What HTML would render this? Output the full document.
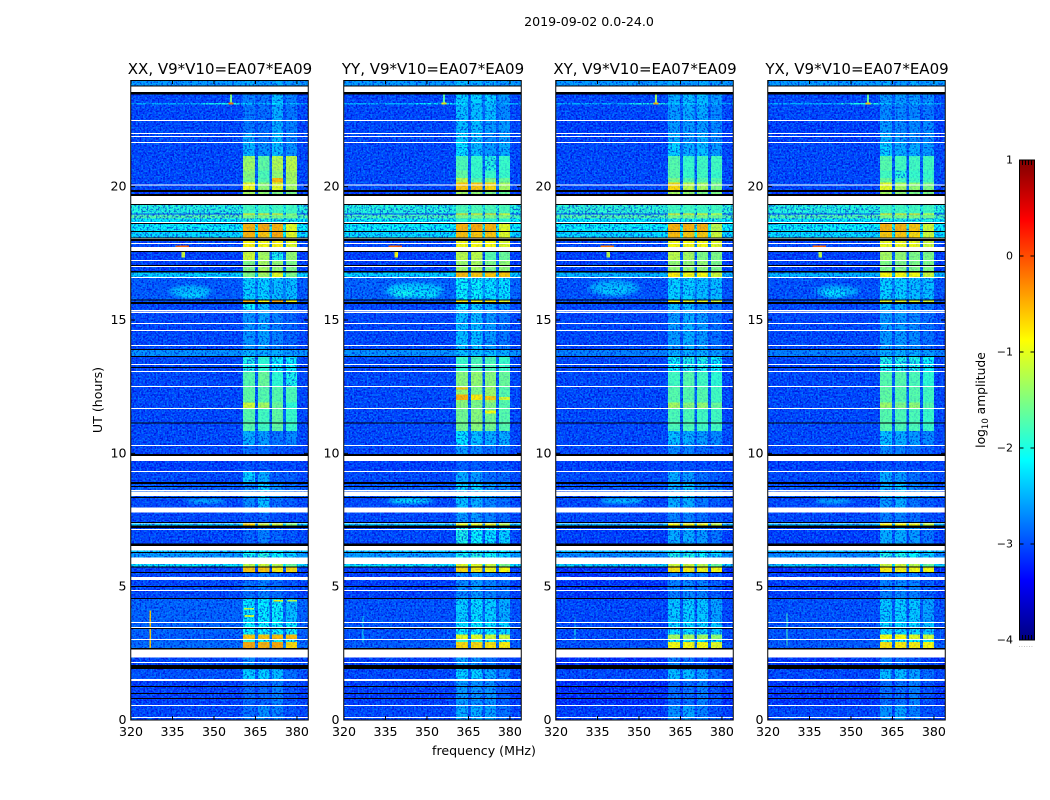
<!DOCTYPE html>
<html lang="en">
<head>
<meta charset="utf-8">
<title>2019-09-02 spectrogram</title>
<style>
html,body{margin:0;padding:0;background:#fff;}
svg{display:block;font-family:"DejaVu Sans","Liberation Sans",sans-serif;fill:#000;}
</style>
</head>
<body>
<svg id="figure" xmlns="http://www.w3.org/2000/svg" width="1050" height="800" viewBox="0 0 1050 800">
<defs>
<filter id="speckle-dark" x="0" y="0" width="100%" height="100%" color-interpolation-filters="sRGB"><feTurbulence type="fractalNoise" baseFrequency="0.55" numOctaves="1" seed="3"/><feColorMatrix values="0 0 0 0 0  0 0 0 0 0  0 0 0 0 0.8  8 0 0 0 -4"/></filter>
<filter id="speckle-light" x="0" y="0" width="100%" height="100%" color-interpolation-filters="sRGB"><feTurbulence type="fractalNoise" baseFrequency="0.55" numOctaves="1" seed="11"/><feColorMatrix values="0 0 0 0 0  0 0 0 0 0.66  0 0 0 0 1  8 0 0 0 -4"/></filter>
<filter id="soft-blur" x="-30%" y="-60%" width="160%" height="220%"><feGaussianBlur stdDeviation="2.5 1.5"/></filter>
<linearGradient id="jet-gradient" x1="0" y1="1" x2="0" y2="0"></linearGradient>
</defs>
<text x="589" y="26" font-size="12.6" text-anchor="middle">2019-09-02 0.0-24.0</text>
<text x="102" y="400" font-size="12.6" text-anchor="middle" transform="rotate(-90 102 400)">UT (hours)</text>
<text x="484" y="755" font-size="12.6" text-anchor="middle">frequency (MHz)</text>
<text x="985" y="400" font-size="12.3" text-anchor="middle" transform="rotate(-90 985 400)">log<tspan font-size="8.5" dy="3">10</tspan><tspan dy="-3"> amplitude</tspan></text>
<g id="panels"></g>
<g id="colorbar"></g>
<text x="1026" y="647" font-size="6" fill="#888" text-anchor="middle" letter-spacing="0.6">......</text>
</svg>
<script>
const panelTitles = ['XX, V9*V10=EA07*EA09', 'YY, V9*V10=EA07*EA09', 'XY, V9*V10=EA07*EA09', 'YX, V9*V10=EA07*EA09'];
const freqTicks = [320, 335, 350, 365, 380];
const hourTicks = [0, 5, 10, 15, 20];
const colorbarTicks = [1, 0, -1, -2, -3, -4];
const freqEdges = [320, 360.5, 364.9, 366, 370, 371, 375, 376, 380, 384];
const columnRole = [0, 1, 5, 2, 5, 3, 5, 4, 0];
const rowBottoms = [23.45,23.14,23.08,22.5,22.01,21.64,21.15,20.6,20.33,20.15,19.88,19.65,19,18.96,18.8,18.64,18.3,18.1,17.55,17.25,16.78,16.6,15.77,15.68,15.4,13.88,13.61,13.09,12.5,11.9,11.66,10.84,10.3,9.71,9.3,8.85,8.33,7.76,7.39,7.29,6.35,6.26,5.85,5.74,5.55,4.54,3.68,3.2,3.04,2.93,2.34,1.9,1.46,0.53,0];
// each row: background, band 1-4, band gap (log10 amplitude)
const amplitudeXX = [
[-2.6,-2.5,-2.6,-2.5,-2.6,-2.7],[-3.05,-2.75,-2.8,-2.4,-2.75,-3],[-2.5,-2.3,-2.4,-2.2,-2.4,-2.6],[-3.05,-2.8,-2.85,-2.5,-2.8,-3],[-3.05,-2.8,-2.85,-2.5,-2.75,-3],[-3.05,-2.55,-2.8,-2.4,-2.75,-3],[-3.05,-2.45,-2.65,-2.4,-2.65,-2.95],[-3.05,-1.35,-1.65,-1.25,-1.2,-2.9],[-3.05,-1.45,-1.75,-1.4,-1.3,-2.9],[-3.05,-1.5,-1.7,-0.55,-1.3,-2.85],[-3.05,-0.95,-1.4,-1,-1.3,-2.8],[-3.1,-1.3,-1.4,-1.5,-1.5,-2.9],
[-1.95,-1.8,-1.8,-1.8,-1.8,-1.95],[-3,-0.7,-0.7,-0.7,-1.4,-3],[-1.7,-1.5,-1.5,-1.5,-1.55,-1.7],[-2.15,-2,-2,-2,-2,-2.15],[-2.1,-0.5,-0.45,-0.5,-1,-2],[-2.25,-0.5,-0.6,-0.45,-1,-2.1],[-3.05,-0.85,-0.9,-0.85,-1,-2.8],[-3.1,-1.1,-1.3,-2,-1.4,-2.9],[-3.1,-1.5,-1.3,-1.4,-1.5,-2.9],[-2.3,-1.5,-1.3,-1,-1.5,-2.3],[-2.95,-2.3,-2.3,-2.4,-2.4,-2.7],[-3,-0.5,-0.9,-0.45,-0.9,-3],
[-3.05,-2.1,-2.4,-2.8,-2.8,-3],[-3.05,-2.65,-2.55,-2.75,-2.9,-3],[-2.65,-2.45,-2.5,-2.5,-2.6,-2.7],[-3.05,-2,-1.9,-2.1,-2.1,-2.9],[-3.05,-1.7,-1.6,-1.9,-2,-2.9],[-3.05,-1.65,-1.7,-1.7,-1.75,-2.9],[-3.05,-1.1,-1.3,-1.6,-1.9,-2.85],[-3.05,-1.7,-1.8,-1.65,-1.85,-2.9],[-3.05,-2.5,-2.6,-2.8,-2.7,-3],[-3.05,-2.85,-2.85,-3,-3,-3],[-3.1,-3,-3,-3.05,-3.05,-3.1],[-3.05,-2.3,-2.5,-2.95,-2.95,-3],[-2.95,-2.7,-2.3,-2.7,-2.85,-2.9],[-3.05,-2.7,-2.4,-2.85,-2.95,-3],[-3.05,-3,-2.9,-3,-3.05,-3.05],[-2.35,-0.7,-1.1,-1.1,-1.5,-2.3],[-3.05,-2.9,-2.75,-2.9,-3,-3.05],[-2.3,-2.2,-2.2,-2.2,-2.2,-2.3],[-2.6,-2.05,-1.95,-2.1,-2.3,-2.5],[-2.2,-1.2,-1.1,-1.2,-1.6,-2.1],[-3.1,-0.6,-0.6,-0.8,-0.7,-3],[-3.05,-2.85,-2.75,-2.85,-3,-3],[-2.9,-2.2,-2.15,-2.1,-2.4,-2.85],[-2.9,-2.1,-2.1,-2.1,-2.1,-2.8],[-2.95,-0.6,-0.6,-0.55,-0.55,-2.8],[-2.9,-1.9,-2,-2,-2,-2.75],[-2.85,-0.45,-0.5,-0.45,-0.7,-2.7],[-3.05,-2.7,-2.9,-2.9,-3.05,-3.05],[-3,-2.3,-2.3,-2.4,-2.85,-2.95],[-3.1,-2.9,-2.9,-2.75,-3,-3.05],[-3.05,-2.85,-2.65,-2.75,-3,-3]];
const amplitudeYY = [
[-2.6,-2.4,-2.5,-2.5,-2.6,-2.7],[-3.05,-2.3,-2.3,-2.3,-2.6,-2.85],[-2.5,-2.2,-2.3,-2.3,-2.5,-2.7],[-3.05,-2.4,-2.4,-2.4,-2.7,-2.9],[-3.05,-2.4,-2.4,-2.6,-2.6,-2.95],[-3.05,-2.3,-2.4,-2.7,-2.6,-2.95],[-3.05,-2.2,-2.4,-2.6,-2.5,-2.9],[-3.05,-1.75,-1.85,-1.95,-1.85,-2.9],[-3.05,-1.65,-1.85,-1.85,-1.85,-2.9],[-3.05,-1.2,-1.7,-1.5,-1.6,-2.85],[-3.05,-0.6,-0.6,-0.7,-1.3,-2.8],[-3.1,-1.3,-1.4,-1.5,-1.6,-2.9],
[-1.95,-1.75,-1.75,-1.75,-1.75,-1.95],[-3,-0.6,-0.7,-0.6,-0.8,-3],[-1.75,-1.5,-1.5,-1.5,-1.5,-1.75],[-2.1,-1.9,-1.9,-1.9,-1.9,-2.1],[-2.1,-0.5,-0.45,-0.5,-1,-2],[-2.25,-0.55,-0.6,-0.6,-1,-2.1],[-3.05,-0.9,-0.9,-0.9,-1,-2.8],[-3.1,-1.2,-1.2,-1.7,-1.6,-2.9],[-3.1,-1.35,-1.3,-1.5,-1.4,-2.9],[-2.3,-0.55,-0.6,-0.6,-0.6,-2.3],[-2.9,-2.1,-2.1,-2.2,-2.2,-2.6],[-3,-0.8,-0.9,-0.8,-1,-3],
[-3.05,-2.2,-2.3,-2.5,-2.6,-3],[-3.05,-2.4,-2.4,-2.6,-2.8,-3],[-2.65,-2.4,-2.4,-2.4,-2.5,-2.7],[-3.05,-1.85,-1.75,-1.75,-1.85,-2.9],[-3.05,-1.45,-1.4,-1.45,-1.6,-2.9],[-3.05,-1.4,-1.5,-1.35,-1.7,-2.85],[-3.05,-1.45,-1.5,-1.5,-1.7,-2.85],[-3.05,-1.55,-1.45,-1.55,-1.7,-2.85],[-3.05,-2.2,-2.4,-2.5,-2.5,-3],[-3.05,-2.6,-2.7,-2.8,-2.85,-3],[-3.1,-2.95,-2.95,-3,-3,-3.1],[-3.05,-2.5,-2.6,-2.85,-2.85,-3],[-2.95,-2.3,-2.3,-2.6,-2.7,-2.9],[-3.05,-2.4,-2.5,-2.7,-2.85,-3],[-3.05,-2.6,-2.6,-2.75,-2.85,-3],[-2.35,-1,-1,-1,-1.2,-2.3],[-3.05,-2,-2.1,-2.2,-2.3,-3],[-2.3,-2.1,-2.1,-2.1,-2.1,-2.3],[-2.6,-2.05,-1.95,-2.05,-2.3,-2.5],[-2.2,-1,-1,-1.1,-1.5,-2.1],[-3.1,-0.7,-0.8,-0.9,-0.9,-3],[-3.1,-2.7,-2.6,-2.75,-2.85,-3],[-3,-2.3,-2.2,-2.3,-2.5,-2.9],[-3,-2.15,-2.15,-2.15,-2.25,-2.85],[-3,-1,-1,-1.1,-1.1,-2.85],[-3,-1.8,-1.9,-2,-2,-2.8],[-2.95,-0.7,-0.7,-0.75,-0.8,-2.8],[-3.1,-2.55,-2.65,-2.85,-3,-3.05],[-3.05,-2.3,-2.3,-2.5,-2.75,-2.95],[-3.1,-2.6,-2.65,-2.65,-2.95,-3],[-3.05,-2.5,-2.5,-2.55,-2.85,-3]];
const amplitudeXY = [
[-2.6,-2.5,-2.6,-2.5,-2.6,-2.7],[-3.05,-2.5,-2.4,-2.4,-2.6,-2.9],[-2.5,-2.3,-2.3,-2.3,-2.4,-2.6],[-3.05,-2.6,-2.5,-2.5,-2.7,-2.95],[-3.1,-2.6,-2.6,-2.6,-2.7,-3],[-3.1,-2.5,-2.6,-2.5,-2.7,-2.95],[-3.05,-2.3,-2.5,-2.4,-2.6,-2.9],[-3.05,-1.7,-1.85,-1.8,-1.8,-2.9],[-3.05,-1.7,-1.85,-1.8,-1.85,-2.9],[-3.05,-1.5,-1.7,-1.7,-1.7,-2.9],[-3.05,-0.7,-1.2,-1.3,-1.5,-2.8],[-3.1,-1.3,-1.4,-1.5,-1.5,-2.9],
[-1.9,-1.8,-1.8,-1.8,-1.8,-1.9],[-3,-0.7,-0.7,-0.8,-1,-3],[-1.7,-1.5,-1.5,-1.5,-1.55,-1.7],[-2.15,-2,-2,-2,-2,-2.15],[-2.1,-0.5,-0.5,-0.5,-1.2,-2],[-2.25,-0.55,-0.6,-0.6,-1.1,-2.1],[-3.05,-0.9,-0.9,-0.9,-1,-2.8],[-3.1,-1.2,-1.3,-1.5,-1.5,-2.9],[-3.1,-1.4,-1.4,-1.4,-1.5,-2.9],[-2.45,-0.8,-0.9,-0.9,-1.1,-2.4],[-3,-2.3,-2.3,-2.4,-2.4,-2.7],[-3,-0.9,-1,-1,-1.1,-3],
[-3.05,-2.4,-2.4,-2.7,-2.8,-3],[-3.05,-2.6,-2.5,-2.6,-2.85,-3],[-2.75,-2.5,-2.5,-2.5,-2.6,-2.8],[-3.05,-2.1,-2,-2,-2.1,-2.9],[-3.05,-1.8,-1.7,-1.8,-1.9,-2.9],[-3.05,-1.7,-1.7,-1.7,-1.8,-2.9],[-3.05,-1.3,-1.45,-1.4,-1.6,-2.85],[-3.05,-1.75,-1.75,-1.8,-1.8,-2.9],[-3.05,-2.4,-2.5,-2.6,-2.7,-3],[-3.05,-2.7,-2.75,-2.85,-2.95,-3],[-3.1,-3,-3,-3.05,-3.05,-3.1],[-3.05,-2.5,-2.6,-2.85,-2.95,-3],[-3,-2.5,-2.4,-2.7,-2.8,-2.95],[-3.05,-2.5,-2.5,-2.8,-2.95,-3],[-3.05,-2.75,-2.75,-2.85,-3,-3.05],[-2.45,-0.9,-0.9,-0.95,-1.2,-2.4],[-3.1,-2.5,-2.5,-2.6,-2.8,-3],[-2.4,-2.2,-2.2,-2.2,-2.2,-2.4],[-2.7,-2,-2,-2.1,-2.3,-2.6],[-2.3,-1.1,-1.1,-1.2,-1.6,-2.2],[-3.2,-0.75,-0.8,-0.9,-0.9,-3],[-3.15,-2.75,-2.7,-2.75,-2.95,-3.1],[-3.05,-2.35,-2.3,-2.35,-2.55,-2.95],[-3.05,-2.25,-2.25,-2.25,-2.35,-2.9],[-3.05,-1.3,-1.3,-1.3,-1.4,-2.9],[-3.05,-2,-2,-2.1,-2.1,-2.85],[-3,-0.9,-0.9,-0.9,-1,-2.85],[-3.2,-2.75,-2.85,-2.95,-3.1,-3.15],[-3.05,-2.4,-2.4,-2.55,-2.85,-3],[-3.2,-2.85,-2.85,-2.75,-3,-3.15],[-3.1,-2.65,-2.55,-2.75,-3,-3.05]];
const amplitudeYX = [
[-2.6,-2.5,-2.6,-2.5,-2.6,-2.7],[-3.05,-2.6,-2.6,-2.6,-2.7,-2.95],[-2.5,-2.3,-2.4,-2.4,-2.4,-2.6],[-3.05,-2.7,-2.7,-2.7,-2.8,-3],[-3.1,-2.6,-2.7,-2.7,-2.7,-3],[-3.1,-2.5,-2.6,-2.7,-2.7,-2.95],[-3.05,-2.3,-2.5,-2.5,-2.6,-2.9],[-3.05,-1.7,-1.8,-1.8,-1.8,-2.9],[-3.05,-1.8,-1.95,-1.85,-1.85,-2.9],[-3.05,-1.6,-1.8,-1.8,-1.8,-2.9],[-3.05,-1,-1.3,-1.4,-1.5,-2.85],[-3.1,-1.3,-1.4,-1.5,-1.5,-2.9],
[-1.95,-1.8,-1.8,-1.8,-1.8,-1.95],[-3,-0.7,-0.7,-0.7,-1,-3],[-1.7,-1.5,-1.5,-1.5,-1.55,-1.7],[-2.15,-2,-2,-2,-2,-2.15],[-2.1,-0.5,-0.5,-0.6,-1.1,-2],[-2.25,-0.6,-0.6,-0.7,-1.1,-2.1],[-3.05,-0.95,-0.95,-0.95,-1.1,-2.8],[-3.1,-1.3,-1.4,-1.5,-1.5,-2.9],[-3.1,-1.5,-1.5,-1.5,-1.5,-2.9],[-2.45,-0.85,-0.9,-0.9,-1.1,-2.4],[-3,-2.3,-2.3,-2.4,-2.4,-2.7],[-3,-1,-1,-1,-1.1,-3],
[-3.05,-2.4,-2.5,-2.7,-2.8,-3],[-3.05,-2.6,-2.6,-2.7,-2.85,-3],[-2.75,-2.5,-2.5,-2.5,-2.6,-2.8],[-3.05,-2,-2,-2,-2.1,-2.9],[-3.05,-1.7,-1.7,-1.75,-1.9,-2.9],[-3.05,-1.65,-1.7,-1.7,-1.8,-2.9],[-3.05,-1.35,-1.5,-1.4,-1.7,-2.85],[-3.05,-1.7,-1.75,-1.75,-1.85,-2.9],[-3.05,-2.4,-2.5,-2.6,-2.7,-3],[-3.05,-2.7,-2.75,-2.85,-2.95,-3],[-3.1,-3,-3,-3.05,-3.05,-3.1],[-3.05,-2.5,-2.6,-2.85,-2.95,-3],[-3,-2.5,-2.4,-2.7,-2.8,-2.95],[-3.05,-2.6,-2.5,-2.8,-2.95,-3],[-3.05,-2.75,-2.75,-2.85,-3,-3.05],[-2.45,-0.85,-0.9,-0.9,-1.2,-2.4],[-3.1,-2.5,-2.5,-2.6,-2.8,-3],[-2.4,-2.2,-2.2,-2.2,-2.2,-2.4],[-2.7,-2,-2,-2.1,-2.3,-2.6],[-2.3,-1.1,-1.1,-1.2,-1.6,-2.2],[-3.2,-0.8,-0.85,-0.9,-0.9,-3],[-3.1,-2.75,-2.7,-2.75,-2.95,-3.05],[-3,-2.35,-2.3,-2.35,-2.55,-2.95],[-3,-2.25,-2.25,-2.25,-2.35,-2.9],[-3,-0.9,-0.9,-1,-1.1,-2.9],[-3,-2,-2,-2.1,-2.1,-2.85],[-2.95,-0.75,-0.8,-0.8,-0.9,-2.85],[-3.15,-2.75,-2.85,-2.95,-3.1,-3.15],[-3.05,-2.4,-2.4,-2.55,-2.85,-3],[-3.15,-2.85,-2.85,-2.75,-3,-3.15],[-3.05,-2.65,-2.55,-2.75,-3,-3.05]];
// localized features: freq start, freq end, hour top, hour bottom, value
const featuresXX = [[346,360,23.13,23.08,-2],[355.8,356.6,23.5,23.1,-1.5],[355.3,357,23.15,23.08,-0.2],[336,341,17.8,17.7,-0.1],[338.2,339.6,17.55,17.35,-1.1],[326.6,327.2,4.1,2.7,-0.6],[360.8,364.5,4.2,4.14,-1.1],[371.5,375,4.5,4.44,-0.9],[376.5,380,4.5,4.44,-1.2],[361,364.5,3.93,3.87,-1.1]];
const featuresYY = [[346,360,23.13,23.08,-2.1],[355.8,356.6,23.5,23.1,-1.7],[355.3,357,23.15,23.08,-0.8],[336,341,17.8,17.7,-0.1],[338.2,339.6,17.55,17.35,-0.9],[326.6,327.1,3.9,2.9,-2],[360.5,364.9,12.2,12,-0.5],[366,370,12.2,12,-0.8],[371,375,12.15,12,-0.65],[376,380,12.12,12,-1.05],[360.5,364.9,12.46,12.4,-0.6],[371,375,11.6,11.5,-0.9]];
const featuresXY = [[346,360,23.13,23.08,-2],[355.8,356.6,23.5,23.1,-1.3],[355.3,357,23.15,23.08,-0.5],[336,341,17.8,17.7,-0.2],[338.2,339.6,17.55,17.35,-1.2],[326.6,327.1,3.9,2.9,-2]];
const featuresYX = [[346,360,23.13,23.08,-2],[355.8,356.6,23.5,23.1,-1.6],[355.3,357,23.15,23.08,-0.6],[336,341,17.8,17.7,-0.1],[338.2,339.6,17.55,17.35,-1.2],[326.6,327.1,4,2.8,-1.8]];
// soft diffuse emission: freq start, freq end, hour top, hour bottom, value
const cloudsXX = [[334,349,16.3,15.85,-2.45],[338,347,16,15.82,-2.25],[340,354,8.3,8.12,-2.45]];
const cloudsYY = [[335,356,16.4,15.85,-2.35],[337,346,16.15,15.85,-2.05],[346,354,16.05,15.82,-2.1],[336,352,8.32,8.12,-2.1]];
const cloudsXY = [[332,350,16.5,15.9,-2.5],[336,346,16.3,15.95,-2.35],[336,352,8.32,8.12,-2.35]];
const cloudsYX = [[337,353,16.3,15.85,-2.5],[340,348,16.15,15.85,-2.2],[337,350,8.3,8.12,-2.45]];
const whiteFlags = [[23.75,23.55],[22.5,22.46],[22.01,21.98],[21.9,21.86],[21.68,21.64],[20.08,20.04],[19.65,19.35],[18.68,18.64],[18.08,18.04],[17.89,17.85],[17.74,17.59],[17.25,17.21],[17.03,16.99],[16.61,16.58],[15.65,15.6],[15.38,15.34],[15.31,15.26],[14.89,14.85],[14.63,14.59],[14.06,14.03],[13.35,13.31],[13.09,13.05],[12.53,12.49],[11.7,11.66],[10.31,10.28],[9.9,9.71],[9.34,9.3],[8.63,8.59],[8.57,8.4],[7.97,7.78],[7.41,7.39],[7.16,7.13],[6.53,6.35],[6.09,5.85],[5.37,5.25],[4.88,4.84],[3.68,3.64],[3.49,3.45],[3.04,3],[2.64,2.34],[2.18,2.14],[1.54,1.46],[0.56,0.53],[0.11,0.08]];
const zeroFlags = [[23.79,23.75],[23.55,23.45],[19.88,19.8],[19.73,19.65],[19.35,19.31],[18.64,18.6],[18.34,18.3],[18.09,18.08],[18.04,17.96],[17.59,17.55],[17.06,17.03],[16.84,16.78],[15.77,15.75],[15.68,15.6],[13.91,13.88],[13.65,13.61],[13.24,13.2],[11.16,11.14],[9.98,9.9],[8.93,8.85],[8.78,8.75],[8.36,8.33],[7.43,7.41],[7.29,7.2],[6.62,6.53],[6.3,6.26],[5.76,5.74],[5.55,5.51],[5.03,4.99],[4.58,4.54],[3.45,3.41],[2.7,2.64],[2.06,1.91],[1.28,1.24],[1.01,0.98],[0.83,0.79]];

const panelAmplitudes = [amplitudeXX, amplitudeYY, amplitudeXY, amplitudeYX];
const panelFeatures = [featuresXX, featuresYY, featuresXY, featuresYX];
const panelClouds = [cloudsXX, cloudsYY, cloudsXY, cloudsYX];
const panelKeys = ['xx', 'yy', 'xy', 'yx'];
const panelLefts = [131, 344, 556, 768];
const PANEL_W = 177, PANEL_TOP = 80, PANEL_BOTTOM = 720;
const SMOOTH_ABOVE = -1.9;
const NS = 'http://www.w3.org/2000/svg';
const clamp01 = v => Math.max(0, Math.min(1, v));
function jet(value) {
  const t = clamp01((value + 4) / 5);
  const r = clamp01(1.5 - Math.abs(4 * t - 3));
  const g = clamp01(1.5 - Math.abs(4 * t - 2));
  const b = clamp01(1.5 - Math.abs(4 * t - 1));
  return `rgb(${Math.round(r * 255)},${Math.round(g * 255)},${Math.round(b * 255)})`;
}
const xScale = (left, f) => left + (f - 320) * (PANEL_W / 64);
const yScale = h => PANEL_BOTTOM - h * ((PANEL_BOTTOM - PANEL_TOP) / 24);
function mk(parent, tag, attrs) {
  const node = document.createElementNS(NS, tag);
  for (const k in attrs) node.setAttribute(k, attrs[k]);
  parent.appendChild(node);
  return node;
}
function drawCells(parent, left, rows, minValue, bandsOnly) {
  let rowTop = 24;
  rows.forEach((row, r) => {
    const bottom = rowBottoms[r];
    columnRole.forEach((role, c) => {
      if (row[role] < minValue) return;
      if (bandsOnly && (role === 0 || role === 5)) return;
      const x0 = xScale(left, freqEdges[c]), x1 = xScale(left, freqEdges[c + 1]);
      const y0 = yScale(rowTop), y1 = yScale(bottom);
      const cell = mk(parent, 'rect', { x: x0, y: y0, width: x1 - x0, height: y1 - y0, fill: jet(row[role]) });
      
      
    });
    rowTop = bottom;
  });
}
function drawFeatures(parent, left, items, minValue) {
  items.forEach(ft => {
    if (ft[4] < minValue) return;
    const x0 = xScale(left, ft[0]), x1 = xScale(left, ft[1]);
    const y0 = yScale(ft[2]), y1 = yScale(ft[3]);
    const patch = mk(parent, 'rect', { x: x0, y: y0, width: x1 - x0, height: y1 - y0, fill: jet(ft[4]) });
    
    
  });
}
const panelsRoot = document.getElementById('panels');
panelTitles.forEach((title, p) => {
  const left = panelLefts[p], key = panelKeys[p];
  const rows = panelAmplitudes[p];
  const g = mk(panelsRoot, 'g', {});
  
  
  const cells = mk(g, 'g', { 'shape-rendering': 'crispEdges' });
  
  
  drawCells(cells, left, rows, -99, false);
  panelClouds[p].forEach(cl => {
    const x0 = xScale(left, cl[0]), x1 = xScale(left, cl[1]);
    const y0 = yScale(cl[2]), y1 = yScale(cl[3]);
    const cloud = mk(g, 'ellipse', { cx: (x0 + x1) / 2, cy: (y0 + y1) / 2, rx: (x1 - x0) / 2, ry: (y1 - y0) / 2, fill: jet(cl[4]), filter: 'url(#soft-blur)' });
    
    
  });
  drawFeatures(cells, left, panelFeatures[p], -99);
  const noiseDark = mk(g, 'rect', { x: left, y: PANEL_TOP, width: PANEL_W, height: PANEL_BOTTOM - PANEL_TOP, filter: 'url(#speckle-dark)', opacity: 0.6 });
  
  
  const noiseLight = mk(g, 'rect', { x: left, y: PANEL_TOP, width: PANEL_W, height: PANEL_BOTTOM - PANEL_TOP, filter: 'url(#speckle-light)', opacity: 0.5 });
  
  
  const smooth = mk(g, 'g', { 'shape-rendering': 'crispEdges', opacity: 0.75 });
  
  
  drawCells(smooth, left, rows, SMOOTH_ABOVE, true);
  drawFeatures(smooth, left, panelFeatures[p], SMOOTH_ABOVE);
  const flags = mk(g, 'g', { 'shape-rendering': 'crispEdges' });
  
  
  whiteFlags.forEach(fl => {
    const y0 = yScale(fl[0]), y1 = yScale(fl[1]);
    const band = mk(flags, 'rect', { x: left, y: y0, width: PANEL_W, height: Math.max(1, y1 - y0), fill: '#fff' });
    
    
  });
  zeroFlags.forEach(fl => {
    const y0 = yScale(fl[0]), y1 = yScale(fl[1]);
    const band = mk(flags, 'rect', { x: left, y: y0, width: PANEL_W, height: Math.max(1, y1 - y0), fill: '#000' });
    
    
  });
  const frame = mk(g, 'rect', { x: left - 0.25, y: PANEL_TOP + 0.5, width: PANEL_W + 0.5, height: PANEL_BOTTOM - PANEL_TOP - 0.5, fill: 'none', stroke: '#000', 'stroke-width': 1 });
  
  
  const heading = mk(g, 'text', { x: left + PANEL_W / 2 + 0.5, y: 74, 'font-size': 15, 'text-anchor': 'middle' });
  heading.textContent = title;
  
  
  freqTicks.forEach(f => {
    const x = xScale(left, f);
    const tickBottom = mk(g, 'line', { x1: x, x2: x, y1: PANEL_BOTTOM, y2: PANEL_BOTTOM - 4, stroke: '#000' });
    
    
    const tickTop = mk(g, 'line', { x1: x, x2: x, y1: PANEL_TOP, y2: PANEL_TOP + 4, stroke: '#000' });
    
    
    const lab = mk(g, 'text', { x: x, y: 736, 'font-size': 12.6, 'text-anchor': 'middle' });
    lab.textContent = f;
    
    
  });
  hourTicks.forEach(h => {
    const y = yScale(h);
    const tickLeft = mk(g, 'line', { x1: left, x2: left + 4, y1: y, y2: y, stroke: '#000' });
    
    
    const tickRight = mk(g, 'line', { x1: left + PANEL_W, x2: left + PANEL_W - 4, y1: y, y2: y, stroke: '#000' });
    
    
    const lab = mk(g, 'text', { x: left - 4.5, y: y + 4, 'font-size': 12.6, 'text-anchor': 'end' });
    lab.textContent = h;
    
    
  });
});

// colorbar
const grad = document.getElementById('jet-gradient');
for (let i = 0; i <= 40; i++) {
  mk(grad, 'stop', { offset: i / 40, 'stop-color': jet(-4 + 5 * i / 40) });
}
const cbRoot = document.getElementById('colorbar');
const CB_X = 1019.5, CB_W = 15, CB_TOP = 160, CB_BOTTOM = 640;
const cbY = v => CB_BOTTOM - (v + 4) * ((CB_BOTTOM - CB_TOP) / 5);
const cbFill = mk(cbRoot, 'rect', { x: CB_X, y: CB_TOP, width: CB_W, height: CB_BOTTOM - CB_TOP, fill: 'url(#jet-gradient)', stroke: '#000', 'stroke-width': 1 });


colorbarTicks.forEach(v => {
  const y = cbY(v);
  const tickA = mk(cbRoot, 'line', { x1: CB_X, x2: CB_X + 4, y1: y, y2: y, stroke: '#000' });
  
  
  const tickB = mk(cbRoot, 'line', { x1: CB_X + CB_W, x2: CB_X + CB_W - 4, y1: y, y2: y, stroke: '#000' });
  
  
  const lab = mk(cbRoot, 'text', { x: 1013, y: y + 3.5, 'font-size': 11, 'text-anchor': 'end' });
  lab.textContent = v < 0 ? '\u2212' + (-v) : String(v);
  
  
});
[3, 6, 9, 12].forEach(dx => {
  const minorTop = mk(cbRoot, 'line', { x1: CB_X + dx, x2: CB_X + dx, y1: CB_TOP, y2: CB_TOP + 5, stroke: '#000' });
  
  
  const minorBottom = mk(cbRoot, 'line', { x1: CB_X + dx, x2: CB_X + dx, y1: CB_BOTTOM, y2: CB_BOTTOM - 5, stroke: '#000' });
  
  
});
</script>
</body>
</html>
